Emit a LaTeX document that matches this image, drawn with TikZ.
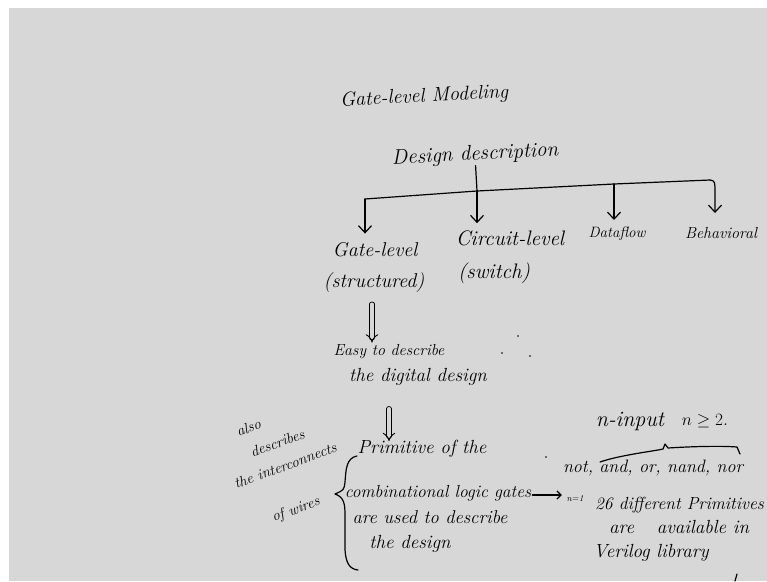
\documentclass[tikz,border=0pt]{standalone}
\usepackage{amsmath,amssymb}
\usetikzlibrary{arrows.meta,positioning}
\definecolor{board}{RGB}{215,215,215}
\tikzset{
  hand/.style      ={font=\fontsize{#1}{#1}\selectfont\itshape, inner sep=1pt},
  hand/.default    =19,
  smallhand/.style ={font=\fontsize{9}{10}\selectfont\itshape, inner sep=1pt},
  ink/.style       ={line width=1.2pt, line cap=round, line join=round},
  drop/.style      ={ink, -{Straight Barb[length=7pt, width=13pt, line width=1.2pt]}},
  thenarr/.style   ={line width=0.9pt, double=board, double distance=3.5pt,
                     -{Implies}, line cap=round},
  blot/.style      ={fill=black, circle, inner sep=0pt, minimum size=1.6pt},
}

\begin{document}
\begin{tikzpicture}[x=1pt, y=-1pt]
\fill[white] (0,0) rectangle (767,581);
\fill[board] (9,8) rectangle (767,581);
\useasboundingbox (0,0) rectangle (767,581);

% heading
\node[hand=20, rotate=3] (title) at (424,97)  {Gate-level Modeling};
\node[hand=21, rotate=3] (desc)  at (475,155) {Design description};

% four ways of describing
\node[hand=20] (gate)   at (375,250) {Gate-level};
\node[hand=20] (struct) at (374,283) {(structured)};
\node[hand=21] (circ)   at (510,238) {Circuit-level};
\node[hand=21] (switch) at (494,273) {(switch)};
\node[hand=15] (flow)   at (617,234) {Dataflow};
\node[hand=16] (behav)  at (721,233) {Behavioral};

\coordinate (barL) at (365,199);
\coordinate (barC) at (477,191);
\coordinate (barD) at (614,184);
\coordinate (barR) at (710,180);
\draw[ink] (barL) -- (barC) -- (barD) -- (barR);
\draw[ink] (desc.south) -- (barC);
\draw[drop, shorten >=8pt] (barL) -- (barL |- gate.north);
\draw[drop, shorten >=6pt] (barC) -- (barC |- circ.north);
\draw[drop, shorten >=6pt] (barD) -- (barD |- flow.north);
\draw[drop] (barR) .. controls (715,181) .. (715,195) -- (715,213);

% gate level
\node[hand=16] (easy)    at (389,352) {Easy to describe};
\node[hand=19] (digital) at (418,377) {the digital design};
\draw[thenarr, shorten <=10pt, shorten >=1pt] ([xshift=-2pt]struct.south)
  -- ([xshift=-2pt]struct.south |- easy.north);

\node[hand=19] (prim)  at (422,449) {Primitive of the};
\node[hand=17.5] (comb)  at (438,493) {combinational logic gates};
\node[hand=18.5] (used)  at (430,517) {are used to describe};
\node[hand=19] (thdes) at (410,544) {the design};
\draw[thenarr, shorten <=22pt, shorten >=-2pt] (easy |- digital.south)
  -- (easy |- prim.north);

% brace and side note
\draw[ink] (357,456) .. controls (346,458) and (346,470) .. (345,482)
  .. controls (344,490) .. (335,494)
  .. controls (344,497) and (345,504) .. (345,515)
  -- (345,550) .. controls (346,564) and (350,569) .. (358,570);
\node[font=\fontsize{15}{24}\selectfont\itshape, inner sep=0pt,
      align=left, rotate=20] (note) at (285,465)
  {\hspace*{20pt}also\\
   \hspace*{26pt}describes\\
   the interconnects\\[20pt]
   \hspace*{24pt}of wires};

% primitives
\node[hand=22] (ninp) at (630,421) {n-input};
\node[hand=17] (ntwo) at (705,421) {$n\geq 2$.};
\node[hand=18] (nots) at (653,468) {not, and, or, nand, nor};
\node[smallhand] (none) at (575,499) {n=1};
\draw[ink, -{Straight Barb[length=4pt, width=8pt, line width=1.2pt]}]
  ([yshift=-2pt]comb.east) -- ([yshift=-2pt]comb.east -| nots.west);
\draw[ink] (600,462) .. controls (620,455) and (655,451) .. (663,449)
  -- (665,444) -- (668,448) .. controls (700,446) and (725,446) .. (737,447)
  -- (740,454);
\node[hand=17.5, anchor=west] (twsix) at (594,505) {26 different Primitives};
\node[hand=19, anchor=west] (avail) at (608,527)
  {are\hspace{16pt} available in};
\node[hand=19] (lib) at (651,553) {Verilog library};

% stray marks
\node[blot] (d1) at (518,336) {};
\node[blot] (d2) at (502,353) {};
\node[blot] (d3) at (530,356) {};
\node[blot] (d4) at (546,457) {};
\draw[ink] (737,574) -- (735,581);
\end{tikzpicture}
\end{document}
